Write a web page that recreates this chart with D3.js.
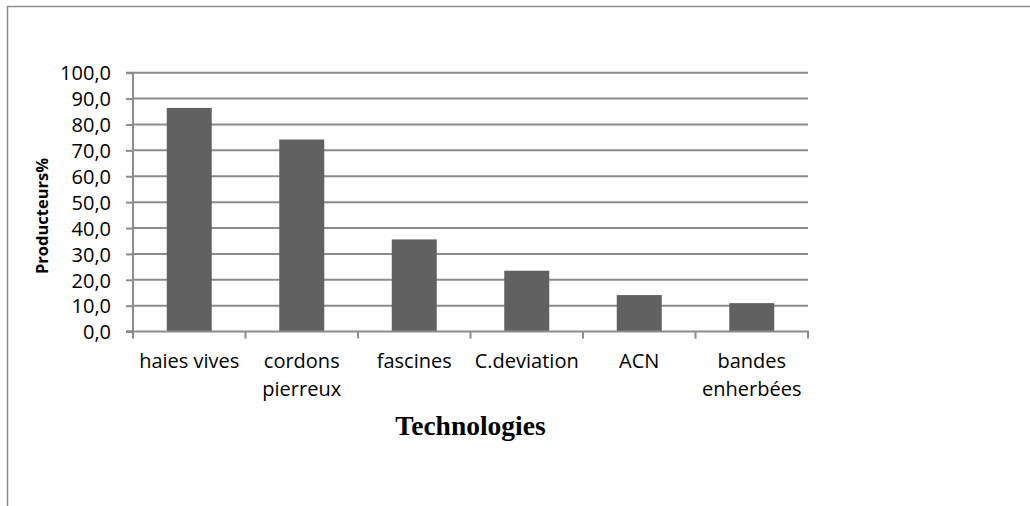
<!DOCTYPE html>
<html><head><meta charset="utf-8">
<script src="https://cdn.jsdelivr.net/npm/d3@7"></script>
<style>body{margin:0;background:#fff}svg{display:block}</style>
</head><body>
<svg id="c" width="1030" height="506"></svg>
<script>
const categories = [["haies vives"],["cordons","pierreux"],["fascines"],["C.deviation"],["ACN"],["bandes","enherbées"]];
const values = [86.4, 74.2, 35.6, 23.5, 14.1, 11.0];
const yTicks = [0,10,20,30,40,50,60,70,80,90,100];
const yTitle = "Producteurs%";
const xTitle = "Technologies";

(function(){
const svg = d3.select("#c");
const pL = 133, pR = 808, pT = 72.7, pB = 331.6;
const labelFont = "'Open Sans', sans-serif";

// outer frame (partially visible)
svg.append("line").attr("x1",7).attr("x2",1030).attr("y1",6.5).attr("y2",6.5).attr("stroke","#8c8c8c").attr("stroke-width",1.5);
svg.append("line").attr("x1",7.5).attr("x2",7.5).attr("y1",6).attr("y2",506).attr("stroke","#8c8c8c").attr("stroke-width",1.5);

const x = d3.scaleBand().domain(d3.range(categories.length)).range([pL,pR]).paddingInner(0.6).paddingOuter(0.3);
const y = d3.scaleLinear().domain([0,100]).range([pB,pT]);

// gridlines
svg.append("g").selectAll("line").data(yTicks.filter(d=>d>0)).join("line")
  .attr("x1",pL).attr("x2",pR).attr("y1",d=>y(d)).attr("y2",d=>y(d))
  .attr("stroke","#8c8c8c").attr("stroke-width",2);

// bars
svg.append("g").selectAll("rect").data(values).join("rect")
  .attr("x",(d,i)=>x(i)).attr("width",x.bandwidth())
  .attr("y",d=>y(d)).attr("height",d=>y(0)-y(d)).attr("fill","#616161");

// y axis
const yAxis = d3.axisLeft(y).tickValues(yTicks).tickSize(7).tickPadding(15)
  .tickFormat(d=>d3.format(".1f")(d).replace(".",","));
const gy = svg.append("g").attr("transform",`translate(${pL},0)`).call(yAxis);
gy.select(".domain").attr("stroke","#8c8c8c").attr("stroke-width",2).attr("d",`M-7,${pT}H0V${pB}H-7`);
gy.selectAll(".tick line").attr("stroke","#8c8c8c").attr("stroke-width",2);
gy.selectAll(".tick text").attr("font-family",labelFont).attr("font-size",20).attr("fill","#000").attr("dy","0.36em");

// x axis line and ticks
const xb = d3.scaleLinear().domain([0,categories.length]).range([pL,pR]);
svg.append("line").attr("x1",pL-7).attr("x2",pR+1).attr("y1",pB).attr("y2",pB).attr("stroke","#8c8c8c").attr("stroke-width",2);
svg.append("g").selectAll("line").data(d3.range(categories.length+1)).join("line")
  .attr("x1",d=>xb(d)).attr("x2",d=>xb(d)).attr("y1",pB).attr("y2",pB+7)
  .attr("stroke","#8c8c8c").attr("stroke-width",2);

// category labels
const cl = svg.append("g").selectAll("text").data(categories).join("text")
  .attr("x",(d,i)=>x(i)+x.bandwidth()/2).attr("y",368)
  .attr("text-anchor","middle").attr("font-family",labelFont).attr("font-size",20).attr("fill","#000");
cl.selectAll("tspan").data(d=>d).join("tspan")
  .attr("x",function(){return this.parentNode.getAttribute("x");})
  .attr("dy",(d,j)=>j===0?0:27.5).text(d=>d);

// titles
svg.append("text").attr("transform",`translate(48,216) rotate(-90)`)
  .attr("text-anchor","middle").attr("font-family","'Open Sans', sans-serif").attr("font-weight","bold")
  .attr("font-size",16.5).attr("fill","#000").text(yTitle);
svg.append("text").attr("x",(pL+pR)/2).attr("y",435).attr("text-anchor","middle")
  .attr("font-family","'Liberation Serif', serif").attr("font-weight","bold").attr("font-size",27.5).attr("fill","#000").text(xTitle);
})();
</script>
</body></html>
